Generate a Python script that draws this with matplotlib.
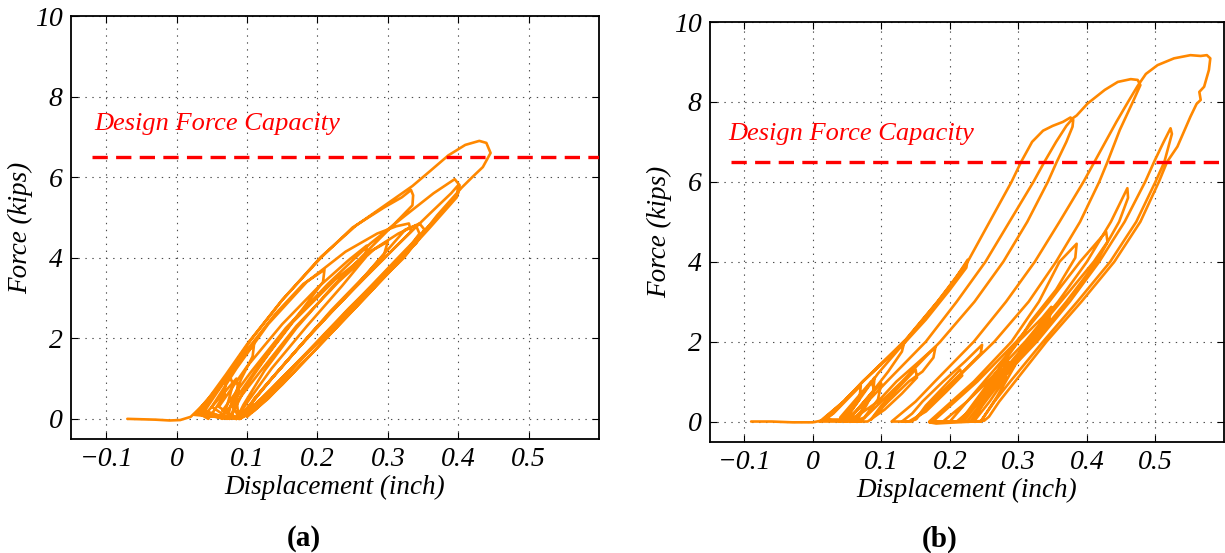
import matplotlib
matplotlib.use("Agg")
import matplotlib.pyplot as plt

# ---------------- data (displacement in inch, force in kips) ----------------
# Panel (a): continuous force-displacement path
a_initial = [(-0.070, 0.00), (-0.050, -0.01), (-0.030, -0.02), (-0.010, -0.04), (0.005, -0.03), (0.020, 0.05),
             (0.035, 0.30), (0.055, 0.70), (0.070, 0.95), (0.068, 0.60), (0.055, 0.25), (0.045, 0.00),
             (0.030, 0.15), (0.050, 0.55), (0.075, 1.10), (0.080, 0.85), (0.072, 0.35), (0.065, 0.00),
             (0.035, 0.20), (0.060, 0.75), (0.090, 1.45), (0.110, 1.85), (0.108, 1.55), (0.092, 1.00),
             (0.078, 0.40), (0.072, 0.00), (0.040, 0.10), (0.060, 0.50), (0.085, 1.00), (0.088, 0.70),
             (0.080, 0.20), (0.075, 0.00)]
a_cycles = [(0.040, 0.20), (0.065, 0.85), (0.095, 1.60), (0.140, 2.60), (0.180, 3.35), (0.210, 3.70),
            (0.208, 3.40), (0.180, 2.75), (0.140, 1.85), (0.100, 0.85), (0.080, 0.15), (0.075, 0.00),
            (0.050, 0.30), (0.085, 1.25), (0.130, 2.35), (0.185, 3.40), (0.240, 4.15), (0.285, 4.60),
            (0.312, 4.78), (0.330, 4.85), (0.333, 4.65), (0.310, 4.25), (0.270, 3.55), (0.220, 2.65),
            (0.170, 1.70), (0.125, 0.80), (0.095, 0.15), (0.085, 0.00),
            (0.060, 0.30), (0.100, 1.30), (0.150, 2.35), (0.200, 3.25), (0.245, 3.95), (0.270, 4.30),
            (0.268, 4.00), (0.235, 3.30), (0.185, 2.30), (0.135, 1.25), (0.100, 0.40), (0.085, 0.00),
            (0.025, 0.10), (0.045, 0.50), (0.070, 1.10), (0.100, 1.85), (0.150, 2.95), (0.205, 4.00),
            (0.250, 4.75), (0.295, 5.25), (0.320, 5.50), (0.333, 5.68), (0.336, 5.55), (0.335, 5.30),
            (0.310, 4.85), (0.270, 4.15), (0.220, 3.25), (0.170, 2.25), (0.125, 1.20), (0.095, 0.35),
            (0.085, 0.00),
            (0.070, 0.15), (0.110, 1.15), (0.165, 2.40), (0.225, 3.45), (0.275, 4.15), (0.315, 4.60),
            (0.345, 4.85), (0.352, 4.70), (0.340, 4.35), (0.300, 3.70), (0.245, 2.75), (0.185, 1.65),
            (0.135, 0.75), (0.100, 0.15), (0.090, 0.00),
            (0.065, 0.20), (0.105, 1.15), (0.155, 2.25), (0.215, 3.35), (0.275, 4.35), (0.325, 5.05),
            (0.365, 5.60), (0.395, 5.95), (0.402, 5.80), (0.400, 5.60), (0.370, 5.00), (0.320, 4.10),
            (0.260, 3.00), (0.200, 1.90), (0.150, 0.95), (0.110, 0.25), (0.090, 0.00)]
a_peak = [(0.035, 0.15), (0.055, 0.65), (0.080, 1.30), (0.105, 1.95), (0.150, 2.95), (0.205, 4.02),
          (0.255, 4.80), (0.300, 5.35), (0.335, 5.78), (0.360, 6.15), (0.386, 6.54), (0.410, 6.80),
          (0.430, 6.90), (0.440, 6.85), (0.446, 6.60), (0.435, 6.25), (0.420, 6.00), (0.405, 5.74),
          (0.370, 5.05), (0.323, 4.00), (0.270, 3.10), (0.210, 2.05), (0.160, 1.20), (0.120, 0.50),
          (0.095, 0.10), (0.088, 0.00)]
a_late = [(0.090, 0.05), (0.130, 0.90), (0.190, 2.10), (0.250, 3.20), (0.310, 4.25), (0.360, 5.10),
          (0.390, 5.60), (0.400, 5.80), (0.398, 5.50), (0.360, 4.75), (0.300, 3.60), (0.240, 2.50),
          (0.180, 1.40), (0.130, 0.50), (0.100, 0.05),
          (0.110, 0.50), (0.160, 1.50), (0.220, 2.70), (0.270, 3.60), (0.305, 4.30), (0.325, 4.70),
          (0.340, 4.80), (0.345, 4.60), (0.320, 4.00), (0.270, 3.05), (0.210, 1.95), (0.150, 0.85),
          (0.110, 0.20), (0.090, 0.00),
          (0.080, 0.30), (0.120, 1.20), (0.170, 2.30), (0.230, 3.40), (0.280, 4.20), (0.300, 4.40),
          (0.295, 4.10), (0.255, 3.30), (0.195, 2.20), (0.140, 1.10), (0.100, 0.25), (0.085, 0.00),
          (0.087, 0.20), (0.086, 0.35)]

# Panel (b)
b_initial = [(-0.090, 0.00), (-0.060, 0.00), (-0.030, -0.02), (0.000, -0.02), (0.015, 0.03),
             (0.030, 0.20), (0.050, 0.55), (0.070, 0.90), (0.068, 0.55), (0.050, 0.15), (0.040, 0.00),
             (0.050, 0.25), (0.075, 0.75), (0.090, 1.10), (0.088, 0.70), (0.070, 0.25), (0.055, 0.00),
             (0.060, 0.20), (0.085, 0.70), (0.100, 0.95), (0.095, 0.55), (0.075, 0.10), (0.060, 0.00),
             (0.040, 0.10), (0.065, 0.60), (0.085, 1.00), (0.090, 0.80), (0.078, 0.40), (0.065, 0.05),
             (0.020, 0.05), (0.045, 0.50), (0.073, 1.00), (0.106, 1.53), (0.134, 2.02), (0.130, 1.75),
             (0.110, 1.25), (0.085, 0.70), (0.060, 0.20), (0.050, 0.00),
             (0.015, 0.05), (0.046, 0.52), (0.074, 1.02), (0.135, 2.04), (0.182, 3.00), (0.205, 3.50),
             (0.226, 4.05), (0.224, 3.85), (0.200, 3.30), (0.165, 2.55), (0.125, 1.80), (0.095, 1.20),
             (0.070, 0.60), (0.050, 0.10), (0.040, 0.00)]
b_first_peak = [(0.010, 0.00), (0.045, 0.50), (0.073, 1.00), (0.134, 2.00), (0.182, 3.00), (0.226, 4.00),
                (0.258, 5.00), (0.290, 6.00), (0.304, 6.50), (0.320, 7.00), (0.336, 7.28), (0.350, 7.40),
                (0.365, 7.50), (0.376, 7.61), (0.380, 7.55),
                (0.379, 7.38), (0.370, 7.00), (0.356, 6.50), (0.343, 6.00), (0.313, 5.00), (0.278, 4.00),
                (0.236, 3.00), (0.186, 2.00), (0.130, 1.00), (0.100, 0.50), (0.070, 0.00), (0.055, 0.00),
                (0.070, 0.20), (0.095, 0.50), (0.122, 1.00), (0.155, 1.50), (0.179, 1.87), (0.176, 1.60),
                (0.160, 1.25), (0.140, 1.00), (0.110, 0.50), (0.085, 0.05), (0.100, 0.40), (0.125, 0.85),
                (0.150, 1.30), (0.152, 1.10), (0.130, 0.70), (0.105, 0.30), (0.080, 0.00), (0.045, 0.00)]
b_second_peak = [(0.080, 0.50), (0.108, 1.00), (0.165, 2.00), (0.210, 3.00), (0.252, 4.00), (0.287, 5.00),
                 (0.322, 6.00), (0.338, 6.50), (0.355, 7.00), (0.370, 7.40), (0.380, 7.60), (0.385, 7.66),
                 (0.401, 7.96), (0.426, 8.30), (0.445, 8.50), (0.464, 8.57), (0.474, 8.55), (0.478, 8.42),
                 (0.467, 8.00), (0.448, 7.30), (0.430, 6.50), (0.418, 6.00), (0.390, 5.00), (0.355, 4.00),
                 (0.315, 3.00), (0.265, 2.00), (0.205, 1.00), (0.175, 0.50), (0.145, 0.00), (0.130, 0.00),
                 (0.145, 0.20), (0.160, 0.50), (0.190, 1.00), (0.222, 1.50), (0.247, 1.92), (0.245, 1.70),
                 (0.225, 1.35), (0.205, 1.00), (0.175, 0.50), (0.150, 0.05), (0.165, 0.40), (0.190, 0.85),
                 (0.215, 1.30), (0.218, 1.15), (0.195, 0.75), (0.165, 0.25), (0.140, 0.00), (0.115, 0.00)]
b_third_peak = [(0.150, 0.50), (0.178, 1.00), (0.235, 2.00), (0.282, 3.00), (0.324, 4.00), (0.360, 5.00),
                (0.395, 6.00), (0.411, 6.50), (0.427, 7.00), (0.443, 7.50), (0.460, 8.00), (0.474, 8.40),
                (0.480, 8.55), (0.486, 8.70), (0.503, 8.92), (0.527, 9.09), (0.551, 9.17), (0.566, 9.15),
                (0.575, 9.17), (0.580, 9.09), (0.578, 8.80), (0.571, 8.38), (0.564, 8.25), (0.566, 8.05),
                (0.560, 7.95), (0.551, 7.63), (0.532, 6.88), (0.517, 6.50), (0.505, 6.00), (0.478, 5.00),
                (0.440, 4.00), (0.392, 3.00), (0.341, 2.00), (0.295, 1.00), (0.272, 0.50), (0.257, 0.12),
                (0.250, 0.02), (0.235, 0.00), (0.200, -0.03), (0.180, -0.05), (0.170, -0.02), (0.190, 0.00),
                (0.210, 0.00)]
b_late = [(0.245, 0.50), (0.272, 1.00), (0.327, 2.00), (0.375, 3.00), (0.418, 4.00), (0.455, 5.00),
          (0.485, 6.00), (0.498, 6.50), (0.512, 7.00), (0.522, 7.34), (0.524, 7.20), (0.513, 6.50),
          (0.500, 6.00), (0.472, 5.00), (0.434, 4.00), (0.386, 3.00), (0.336, 2.00), (0.288, 1.00),
          (0.265, 0.50), (0.245, 0.00), (0.190, 0.00),
          (0.225, 0.50), (0.255, 1.00), (0.310, 2.00), (0.358, 3.00), (0.400, 4.00), (0.435, 5.00),
          (0.459, 5.84), (0.460, 5.60), (0.447, 5.00), (0.414, 4.00), (0.370, 3.00), (0.322, 2.00),
          (0.274, 1.00), (0.230, 0.00), (0.175, 0.00),
          (0.240, 1.00), (0.297, 2.00), (0.345, 3.00), (0.390, 4.00), (0.428, 4.75), (0.430, 4.50),
          (0.410, 4.00), (0.362, 3.00), (0.314, 2.00), (0.265, 1.00), (0.220, 0.00), (0.170, 0.00),
          (0.235, 1.00), (0.290, 2.00), (0.330, 3.00), (0.360, 4.00), (0.385, 4.45), (0.383, 4.10),
          (0.355, 3.30), (0.318, 2.50), (0.300, 2.00), (0.258, 1.00), (0.215, 0.00), (0.200, 0.00),
          (0.250, 1.00), (0.300, 2.00), (0.335, 2.60), (0.348, 2.87), (0.345, 2.55), (0.325, 2.15),
          (0.270, 1.00), (0.225, 0.00), (0.215, 0.00), (0.245, 0.60), (0.275, 1.30), (0.282, 1.10),
          (0.258, 0.50), (0.235, 0.00), (0.255, 0.70), (0.285, 1.50), (0.295, 1.40), (0.268, 0.60),
          (0.245, 0.00), (0.240, 0.00)]

design_force = 6.5
capacity_span = [-0.12, 0.6]
x_ticks = [-0.1, 0.0, 0.1, 0.2, 0.3, 0.4, 0.5]
x_tick_labels = ["\u22120.1", "0", "0.1", "0.2", "0.3", "0.4", "0.5"]
y_ticks = [0, 2, 4, 6, 8, 10]
y_tick_labels = ["0", "2", "4", "6", "8", "10"]
x_limits = (-0.15, 0.6)
y_limits = (-0.5, 10)
panel_labels = ["(a)", "(b)"]
capacity_label = "Design Force Capacity"

# ---------------- drawing ----------------
plt.rcParams["font.family"] = ["Liberation Serif", "DejaVu Serif"]
plt.rcParams["lines.scale_dashes"] = False

fig = plt.figure(figsize=(12.25, 5.53), dpi=100)
W, H = 1225.0, 553.0
ax_a = fig.add_axes([71 / W, (H - 439) / H, 528 / W, 423 / H])
ax_b = fig.add_axes([710 / W, (H - 441.5) / H, 514 / W, 419.5 / H])

paths = [a_initial + a_cycles + a_peak + a_late,
         b_initial + b_first_peak + b_second_peak + b_third_peak + b_late]
text_pos = [(-0.117, 7.32), (-0.123, 7.2)]
label_x = [304, 940]

for ax, path, tp, lx, pl in zip([ax_a, ax_b], paths, text_pos, label_x, panel_labels):
    xs = [p[0] for p in path]
    ys = [p[1] for p in path]
    ax.plot(xs, ys, color="#ff8800", lw=1.9, solid_joinstyle="round", solid_capstyle="round", zorder=3)
    ax.hlines(design_force, capacity_span[0], capacity_span[1], colors="#ff0000", lw=2.4,
              linestyles=(0, (11, 6)), zorder=4)
    ax.text(tp[0], tp[1], capacity_label, color="#ff0000", fontstyle="italic", fontsize=19,
            va="center", ha="left", zorder=5)
    ax.set_xlim(*x_limits)
    ax.set_ylim(*y_limits)
    ax.set_xticks(x_ticks)
    ax.set_xticklabels(x_tick_labels, fontstyle="italic", fontsize=20)
    ax.set_yticks(y_ticks)
    ax.set_yticklabels(y_tick_labels, fontstyle="italic", fontsize=20)
    ax.tick_params(direction="in", top=True, right=True, length=5, width=0.8, pad=6)
    ax.grid(True, linestyle=(0, (1, 4)), color="0.3", linewidth=0.8)
    for s in ax.spines.values():
        s.set_linewidth(1.3)
        s.set_color("black")
    ax.set_xlabel("Displacement (inch)", fontstyle="italic", fontsize=19.5, labelpad=2)
    ax.set_ylabel("Force (kips)", fontstyle="italic", fontsize=19.5, labelpad=1)
    fig.text(lx / W, 1 - 539 / H, pl, ha="center", va="center", fontweight="bold", fontsize=21)

fig.savefig("out.png", dpi=100)
